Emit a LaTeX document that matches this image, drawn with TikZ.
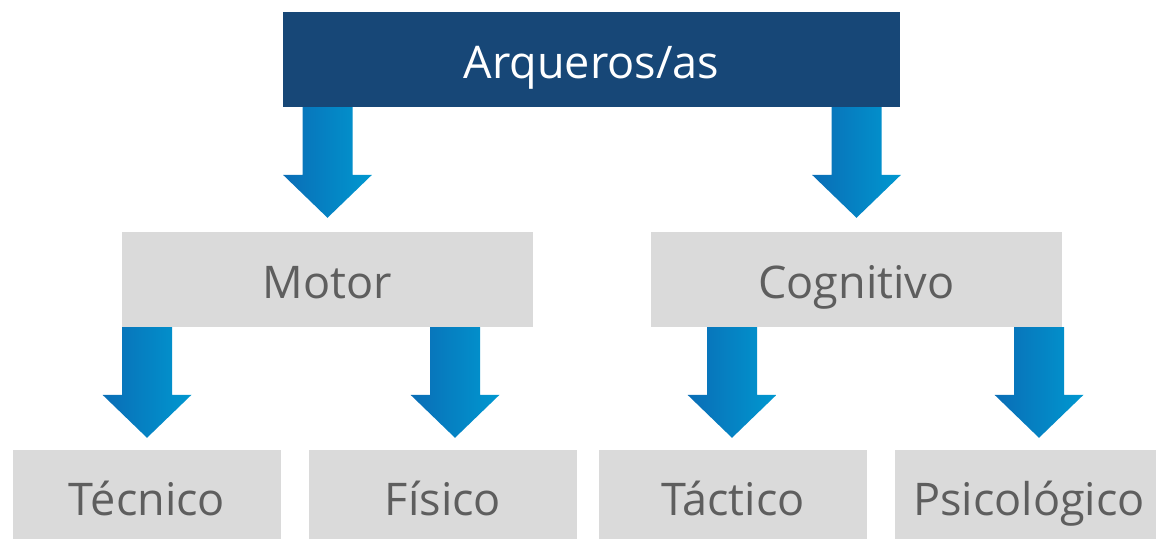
\documentclass[tikz,border=0pt]{standalone}
\usepackage{fontspec}
\setmainfont{Open Sans}
\usetikzlibrary{calc}
\definecolor{navy}{HTML}{174777}
\definecolor{boxgrey}{HTML}{DADADA}
\definecolor{textgrey}{HTML}{5E5E5E}
\definecolor{arrowdark}{HTML}{0A6DB6}
\definecolor{arrowlight}{HTML}{0098D0}
\tikzset{
  basebox/.style={inner sep=0pt, text height=38pt, text depth=0pt, font=\fontsize{45}{52}\selectfont},
  topbox/.style={basebox, fill=navy, text=white, minimum width=617pt, minimum height=95pt},
  midbox/.style={basebox, fill=boxgrey, text=textgrey, minimum width=411pt, minimum height=95pt},
  leafbox/.style={basebox, fill=boxgrey, text=textgrey, minimum width=268pt, minimum height=92pt},
  arrowfill/.style={left color=arrowdark, right color=arrowlight}
}
\newcommand\blockarrow[2]{%
  \shade[arrowfill] let \p1=(#1), \p2=(#2) in
    (\x2-25pt,\y1) -- (\x2+25pt,\y1) -- (\x2+25pt,\y2+43pt) -- (\x2+44.5pt,\y2+43pt)
    -- (\x2,\y2) -- (\x2-44.5pt,\y2+43pt) -- (\x2-25pt,\y2+43pt) -- cycle;}
\begin{document}
\begin{tikzpicture}[x=1pt, y=-1pt]
  \useasboundingbox (0,0) rectangle (1156,538);
  \clip (0,0) rectangle (1156,538);
  \node[topbox] (top) at (591.5,59.5) {Arqueros/as};
  \node[midbox] (motor) at (327.5,279.5) {Motor};
  \node[midbox] (cog) at (856.5,279.5) {Cognitivo};
  \node[leafbox] (tec) at (147,496) {Técnico};
  \node[leafbox] (fis) at (443,496) {Físico};
  \node[leafbox] (tac) at (733,496) {Táctico};
  \node[leafbox] (psi) at (1029,496) {Psicológico};
  \blockarrow{top.south}{[yshift=14pt]motor.north}
  \blockarrow{top.south}{[yshift=14pt]cog.north}
  \blockarrow{motor.south}{[yshift=12pt]tec.north}
  \blockarrow{motor.south}{[yshift=12pt, xshift=12pt]fis.north}
  \blockarrow{cog.south}{[yshift=12pt, xshift=-1pt]tac.north}
  \blockarrow{cog.south}{[yshift=12pt, xshift=10pt]psi.north}
\end{tikzpicture}
\end{document}
